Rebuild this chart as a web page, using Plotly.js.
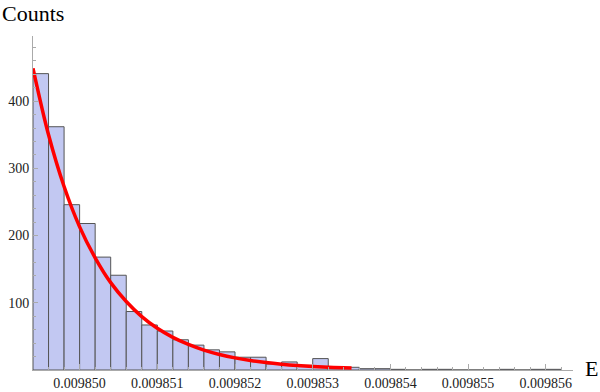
<!DOCTYPE html>
<html>
<head>
<meta charset="utf-8">
<script src="https://cdn.plot.ly/plotly-3.0.1.min.js"></script>
<style>
  html, body { margin: 0; padding: 0; background: #fff; }
  #hist { width: 600px; height: 392px; }
</style>
</head>
<body>
<div id="hist"></div>
<script>
// histogram of E, bins of width 2e-7 starting at 0.0098494
var binStart = 0.0098494;
var binWidth = 0.0000002;
var counts = [441, 362, 246, 218, 168, 141, 87, 67, 58, 45,
              37, 30, 27, 19, 19, 9, 12, 7, 17, 5,
              4, 2, 2, 1, 0, 1, 1, 0, 0, 0,
              1, 0, 1, 1];

// fitted curve
var curveE = [0.0098494, 0.0098496, 0.0098498, 0.0098500, 0.0098502, 0.0098504,
              0.0098506, 0.0098508, 0.0098510, 0.0098512, 0.0098514, 0.0098516,
              0.0098518, 0.0098520, 0.0098522, 0.0098524, 0.0098526, 0.0098528,
              0.0098530, 0.0098532, 0.0098534, 0.0098535];
var curveCounts = [449, 350, 273, 213, 167, 130, 102, 79.5, 62, 48.5, 38,
                   29.6, 23.1, 18, 14.1, 11, 8.6, 6.7, 5.2, 4.1, 3.2, 2.9];

var yTicks = [100, 200, 300, 400];

// bar centres from the bin edges
var binCenters = counts.map((c, i) => binStart + (i + 0.5) * binWidth);

var bars = {
    x: binCenters,
    y: counts,
    type: "bar",
    width: binWidth,
    marker: {color: "rgb(194,200,242)", line: {color: "#555", width: 1}},
    hoverinfo: "skip"
};

var fit = {
    x: curveE,
    y: curveCounts,
    type: "scatter",
    mode: "lines",
    line: {color: "#ff0000", width: 3.5, shape: "spline"},
    cliponaxis: false,
    hoverinfo: "skip"
};

var data = [bars, fit];

var serif = "'Liberation Serif', 'Times New Roman', Times, serif";

var layout = {
    width: 600,
    height: 392,
    margin: {l: 33, r: 27, t: 36, b: 22},
    paper_bgcolor: "#fff",
    plot_bgcolor: "#fff",
    showlegend: false,
    bargap: 0,
    font: {family: serif, size: 14, color: "#222"},
    xaxis: {
        range: [binStart, 0.00985635],
        tick0: 0.00985,
        dtick: 0.000001,
        tickformat: ".6f",
        ticks: "inside",
        ticklen: 6,
        tickcolor: "#aaa",
        showline: true,
        linecolor: "#aaa",
        linewidth: 1,
        showgrid: false,
        zeroline: false,
        minor: {dtick: binWidth, tick0: 0.00985, ticks: "inside", ticklen: 3.5, tickcolor: "#aaa", showgrid: false},
        tickfont: {family: serif, size: 14, color: "#222"}
    },
    yaxis: {
        range: [0, 497],
        tickmode: "array",
        tickvals: yTicks,
        ticktext: yTicks.map(String),
        ticks: "inside",
        ticklen: 5,
        tickcolor: "#aaa",
        showline: true,
        linecolor: "#aaa",
        linewidth: 1,
        showgrid: false,
        zeroline: false,
        minor: {dtick: 20, tick0: 0, ticks: "inside", ticklen: 3, tickcolor: "#aaa", showgrid: false},
        tickfont: {family: serif, size: 14, color: "#222"}
    },
    annotations: [
        {text: "Counts", xref: "paper", yref: "paper", x: 0, y: 1, xshift: -33, yshift: 23,
         xanchor: "left", yanchor: "middle", showarrow: false, font: {family: serif, size: 22, color: "#000"}},
        {text: "E", xref: "paper", yref: "paper", x: 1, y: 0, xshift: 10, yshift: 2,
         xanchor: "left", yanchor: "middle", showarrow: false, font: {family: serif, size: 22, color: "#000"}}
    ]
};

Plotly.newPlot("hist", data, layout, {displayModeBar: false, staticPlot: true});
</script>
</body>
</html>
